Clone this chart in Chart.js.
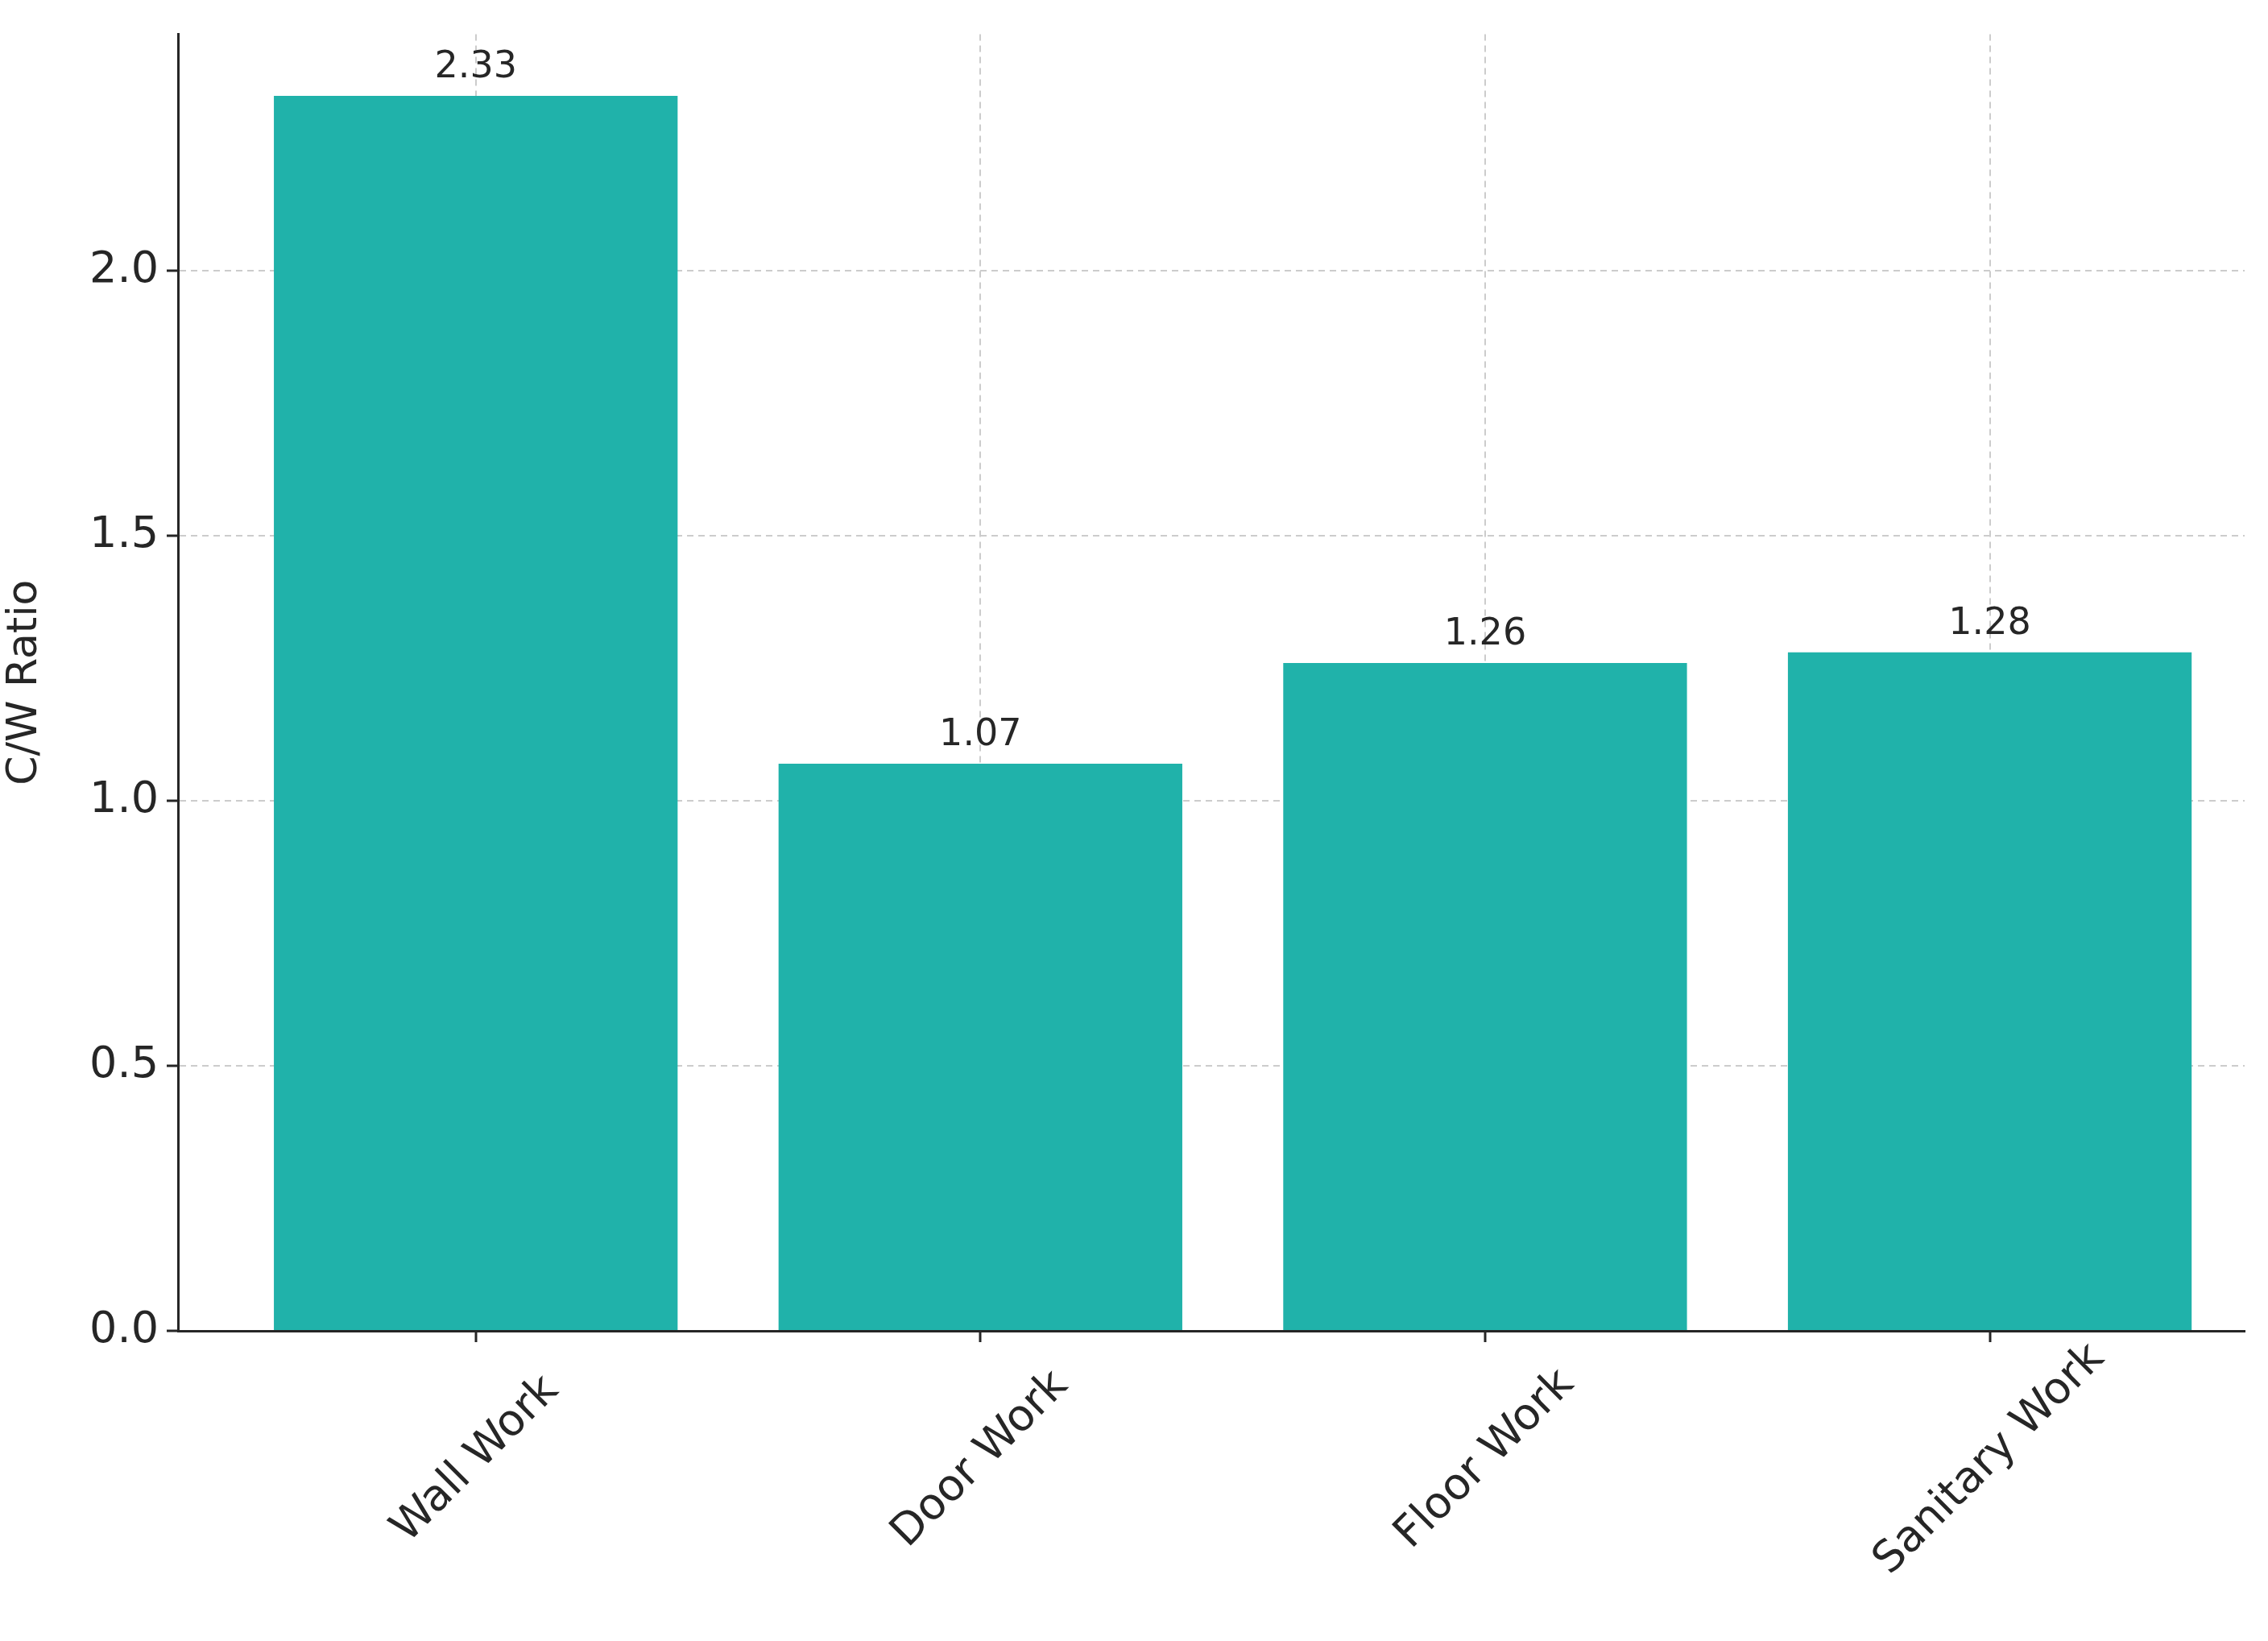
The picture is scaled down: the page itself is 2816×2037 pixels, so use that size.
<!DOCTYPE html>
<html>
<head>
<meta charset="utf-8">
<script src="https://cdn.jsdelivr.net/npm/chart.js@4.4.1/dist/chart.umd.min.js"></script>
<style>
  html, body { margin: 0; padding: 0; background: #fff; }
  #wrap { width: 2816px; height: 2037px; }
</style>
</head>
<body>
<div id="wrap"><canvas id="chart" width="2816" height="2037"></canvas></div>
<script>
const categories = ['Wall Work', 'Door Work', 'Floor Work', 'Sanitary Work'];
const ratios = [2.33, 1.07, 1.26, 1.28];
const yTicks = [0, 0.5, 1.0, 1.5, 2.0];

const FONT = 'DejaVu Sans';
const TEXT = '#262626';
const BAR = '#20B2AA';

// bar value labels and centred rotated category labels
const labelPlugin = {
  id: 'labels',
  afterDraw(chart) {
    const ctx = chart.ctx;
    const x = chart.scales.x, y = chart.scales.y;
    ctx.save();
    ctx.fillStyle = TEXT;
    ctx.font = `46px "${FONT}"`;
    ctx.textAlign = 'center';
    ctx.textBaseline = 'bottom';
    ratios.forEach((v, i) => {
      ctx.fillText(v.toFixed(2), x.getPixelForValue(i), y.getPixelForValue(v) - 12);
    });
    ctx.font = `54px "${FONT}"`;
    ctx.textBaseline = 'middle';
    categories.forEach((c, i) => {
      ctx.save();
      ctx.translate(x.getPixelForValue(i), y.bottom + 160);
      ctx.rotate(-Math.PI / 4);
      ctx.fillText(c, 0, 0);
      ctx.restore();
    });
    ctx.restore();
  }
};

const grid = { color: '#cccccc', lineWidth: 2, tickColor: '#262626', tickLength: 14, tickWidth: 3, tickBorderDash: [], offset: false };

new Chart(document.getElementById('chart'), {
  type: 'bar',
  data: {
    datasets: [{
      data: ratios.map((v, i) => ({ x: i, y: v })),
      backgroundColor: BAR,
      borderWidth: 0,
      barPercentage: 0.8,
      categoryPercentage: 1.0
    }]
  },
  options: {
    responsive: false,
    animation: false,
    layout: { padding: { top: 25, right: 29, left: 0, bottom: 0 } },
    plugins: { legend: { display: false }, tooltip: { enabled: false } },
    scales: {
      x: {
        type: 'linear',
        offset: false,
        min: -0.59,
        max: 3.505,
        afterBuildTicks(s) { s.ticks = categories.map((c, i) => ({ value: i })); },
        afterFit(s) { s.height = 385; },
        ticks: { display: false },
        border: { display: true, color: '#262626', width: 3, dash: [8, 6] },
        grid
      },
      y: {
        min: 0,
        max: 2.4465,
        afterBuildTicks(s) { s.ticks = yTicks.map(v => ({ value: v })); },
        afterFit(s) { s.width = 221; },
        ticks: {
          font: { family: FONT, size: 54 },
          color: TEXT,
          padding: 10,
          callback: v => Number(v).toFixed(1)
        },
        title: { display: true, text: 'C/W Ratio', font: { family: FONT, size: 52 }, color: TEXT, padding: 0 },
        border: { display: true, color: '#262626', width: 3, dash: [8, 6] },
        grid
      }
    }
  },
  plugins: [labelPlugin]
});
</script>
</body>
</html>
